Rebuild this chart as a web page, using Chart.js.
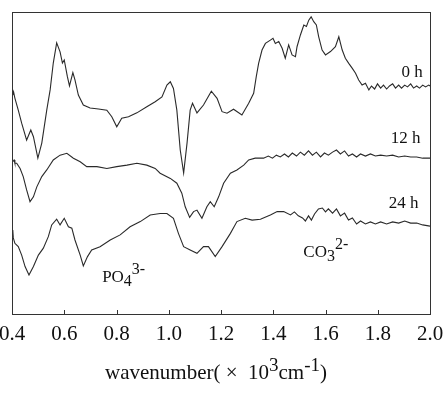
<!DOCTYPE html>
<html>
<head>
<meta charset="utf-8">
<script src="https://cdn.jsdelivr.net/npm/chart.js@4"></script>
<style>
  html, body { margin: 0; padding: 0; background: #fff; }
  #wrap { width: 446px; height: 394px; }
</style>
</head>
<body>
<div id="wrap"><canvas id="myChart01"></canvas></div>
<script>
// wavenumber (x 10^3 cm^-1), absorbance (arbitrary, offset)
var spec0h = [
  [0.403,72.5],[0.406,73.6],[0.411,71.5],[0.424,67.5],[0.437,63.2],[0.456,57.6],[0.472,60.9],[0.482,58.7],
  [0.499,51.6],[0.514,56.6],[0.533,67.5],[0.546,74.2],[0.558,83.1],[0.571,89.8],[0.584,86.8],[0.593,83.1],
  [0.600,84.1],[0.612,78.6],[0.620,75.5],[0.633,79.9],[0.641,77.5],[0.654,72.5],[0.673,69.2],[0.699,68.2],
  [0.731,67.9],[0.763,67.5],[0.782,65.3],[0.801,62.0],[0.820,64.8],[0.846,65.3],[0.878,66.6],[0.916,68.6],
  [0.948,70.3],[0.974,71.9],[0.993,75.8],[1.006,76.9],[1.018,74.7],[1.031,67.5],[1.044,54.3],[1.057,46.7],
  [1.070,56.6],[1.082,67.5],[1.091,69.8],[1.108,66.6],[1.133,69.2],[1.163,73.8],[1.185,71.4],[1.204,67.0],
  [1.223,66.5],[1.248,67.8],[1.280,65.9],[1.306,69.8],[1.325,73.1],[1.335,78.6],[1.344,83.0],[1.357,87.4],
  [1.370,89.6],[1.389,90.7],[1.399,91.3],[1.408,89.6],[1.421,90.2],[1.434,88.0],[1.446,84.7],[1.459,89.1],
  [1.472,85.8],[1.485,85.2],[1.491,88.5],[1.504,92.4],[1.517,95.7],[1.527,95.2],[1.536,97.3],[1.545,98.4],
  [1.555,96.8],[1.565,95.7],[1.574,91.8],[1.587,87.4],[1.600,85.8],[1.619,86.9],[1.638,88.5],[1.651,91.8],
  [1.664,87.4],[1.676,84.7],[1.689,83.0],[1.702,81.4],[1.715,79.7],[1.727,77.5],[1.740,75.8],[1.753,76.4],
  [1.766,74.2],[1.776,75.5],[1.788,74.5],[1.799,76.2],[1.811,74.8],[1.822,75.8],[1.834,74.5],[1.845,75.5],
  [1.857,76.2],[1.868,74.8],[1.880,75.8],[1.891,74.8],[1.903,75.8],[1.914,75.2],[1.926,76.2],[1.937,74.8],
  [1.949,75.5],[1.960,74.8],[1.972,75.8],[1.983,75.2],[1.995,75.8],[2.000,75.5]
];
var spec12h = [
  [0.403,50.4],[0.408,51.0],[0.411,49.9],[0.418,49.9],[0.431,48.2],[0.443,45.5],[0.456,41.1],[0.469,37.2],
  [0.482,38.8],[0.495,42.1],[0.514,45.5],[0.533,47.7],[0.558,51.0],[0.584,52.6],[0.610,53.2],[0.635,51.6],
  [0.661,50.4],[0.686,48.8],[0.725,48.8],[0.763,48.2],[0.801,48.8],[0.840,49.3],[0.878,49.9],[0.916,49.3],
  [0.948,48.2],[0.967,46.6],[1.006,44.9],[1.031,43.3],[1.050,40.0],[1.063,35.5],[1.080,32.0],[1.095,33.9],
  [1.108,34.4],[1.127,31.7],[1.146,35.5],[1.159,37.2],[1.174,35.5],[1.191,38.8],[1.210,43.3],[1.236,46.6],
  [1.261,47.7],[1.287,49.3],[1.306,51.0],[1.331,51.6],[1.363,51.6],[1.381,52.3],[1.397,51.6],[1.412,52.6],
  [1.427,52.0],[1.443,53.0],[1.458,52.0],[1.473,53.3],[1.489,52.3],[1.504,53.6],[1.519,52.6],[1.535,54.0],
  [1.550,52.6],[1.565,53.6],[1.581,52.0],[1.596,53.3],[1.611,52.6],[1.627,53.6],[1.642,54.3],[1.657,53.0],
  [1.673,54.0],[1.688,52.3],[1.703,53.0],[1.719,52.0],[1.734,53.0],[1.753,52.3],[1.772,53.0],[1.791,52.3],
  [1.811,52.6],[1.834,52.3],[1.857,52.6],[1.880,52.0],[1.903,52.3],[1.926,52.0],[1.949,52.0],[1.972,51.6],
  [2.000,51.6]
];
var spec24h = [
  [0.403,27.8],[0.405,25.2],[0.411,23.4],[0.424,22.3],[0.437,19.5],[0.450,15.7],[0.465,12.9],[0.482,15.7],
  [0.501,19.5],[0.520,21.8],[0.539,25.6],[0.552,29.5],[0.571,31.4],[0.584,29.5],[0.600,31.7],[0.616,28.9],
  [0.629,28.4],[0.641,24.5],[0.661,19.5],[0.673,15.9],[0.689,19.0],[0.705,21.2],[0.737,22.3],[0.776,24.5],
  [0.814,26.2],[0.852,28.9],[0.891,30.6],[0.929,32.8],[0.967,33.3],[0.993,33.3],[1.018,31.7],[1.037,26.7],
  [1.057,22.3],[1.082,21.2],[1.108,20.1],[1.133,22.3],[1.152,22.3],[1.178,19.0],[1.204,22.3],[1.236,26.7],
  [1.261,30.6],[1.293,31.7],[1.319,31.1],[1.351,31.4],[1.389,32.8],[1.415,33.9],[1.440,33.9],[1.466,32.8],
  [1.481,33.8],[1.496,32.5],[1.512,31.8],[1.523,30.8],[1.535,32.5],[1.546,31.1],[1.558,33.1],[1.573,34.8],
  [1.588,35.1],[1.600,33.8],[1.611,34.8],[1.627,33.4],[1.642,34.8],[1.657,32.5],[1.673,33.4],[1.688,31.1],
  [1.703,31.8],[1.719,29.8],[1.734,30.8],[1.753,29.8],[1.772,30.5],[1.791,29.8],[1.811,30.5],[1.834,29.8],
  [1.857,30.5],[1.880,30.1],[1.903,30.8],[1.926,30.1],[1.949,30.1],[1.972,29.5],[2.000,29.1]
];

var series_labels = ["0 h", "12 h", "24 h"];
// label anchors in data units: [x, y]
var label_pos = [[1.972, 78.5], [1.964, 56.6], [1.956, 35.1]];
var ion_pos = { po4: [0.745, 10.6], co3: [1.515, 18.9] };

var SERIF = "'Liberation Serif', 'Times New Roman', serif";

function toXY(arr) {
    return arr.map(function (p) { return { x: p[0], y: p[1] }; });
}

// draws text pieces, some raised (superscript) or lowered (subscript)
function richText(ctx, parts, x, y, size, align) {
    var total = 0;
    parts.forEach(function (p) {
        ctx.font = Math.round(size * (p[2] || 1)) + "px " + SERIF;
        total += ctx.measureText(p[0]).width;
    });
    var cx = x;
    if (align === 'center') cx = x - total / 2;
    if (align === 'right') cx = x - total;
    ctx.textAlign = 'left';
    ctx.textBaseline = 'alphabetic';
    parts.forEach(function (p) {
        ctx.font = Math.round(size * (p[2] || 1)) + "px " + SERIF;
        ctx.fillText(p[0], cx, y + (p[1] || 0));
        cx += ctx.measureText(p[0]).width;
    });
}

var decor = {
    id: 'decor',
    afterDraw: function (chart) {
        var ctx = chart.ctx;
        var a = chart.chartArea;
        var sx = chart.scales.x, sy = chart.scales.y;
        ctx.save();
        ctx.strokeStyle = '#333';
        ctx.lineWidth = 1;
        ctx.strokeRect(Math.round(a.left) + 0.5, Math.round(a.top) + 0.5,
            Math.round(a.right - a.left), Math.round(a.bottom - a.top));
        // inward ticks on the bottom axis
        sx.ticks.forEach(function (t) {
            var px = Math.round(sx.getPixelForValue(t.value)) + 0.5;
            ctx.beginPath();
            ctx.moveTo(px, a.bottom);
            ctx.lineTo(px, a.bottom - 4);
            ctx.stroke();
        });
        ctx.fillStyle = '#111';
        series_labels.forEach(function (s, i) {
            richText(ctx, [[s]], sx.getPixelForValue(label_pos[i][0]), sy.getPixelForValue(label_pos[i][1]), 17, 'right');
        });
        richText(ctx, [["PO"], ["4", 4, 0.95], ["3-", -8, 0.95]],
            sx.getPixelForValue(ion_pos.po4[0]), sy.getPixelForValue(ion_pos.po4[1]), 17, 'left');
        richText(ctx, [["CO"], ["3", 4, 0.95], ["2-", -8, 0.95]],
            sx.getPixelForValue(ion_pos.co3[0]), sy.getPixelForValue(ion_pos.co3[1]), 17, 'left');
        // axis title
        richText(ctx, [["wavenumber( \u00d7  10"], ["3", -8, 0.9], ["cm"], ["-1", -8, 0.9], [")"]],
            (a.left + a.right) / 2 - 5, 379, 21, 'center');
        ctx.restore();
    }
};

var myChart1 = new Chart(document.getElementById("myChart01"), {
    type: 'line',
    data: {
        datasets: [
            { label: series_labels[0], data: toXY(spec0h) },
            { label: series_labels[1], data: toXY(spec12h) },
            { label: series_labels[2], data: toXY(spec24h) }
        ]
    },
    options: {
        responsive: true,
        maintainAspectRatio: false,
        animation: false,
        layout: { padding: { top: 12, left: 12, right: 16, bottom: 0 } },
        elements: {
            line: { borderColor: '#2a2a2a', borderWidth: 1.1, tension: 0 },
            point: { radius: 0 }
        },
        plugins: {
            legend: { display: false },
            tooltip: { enabled: false }
        },
        scales: {
            x: {
                type: 'linear',
                min: 0.4,
                max: 2.0,
                grid: { display: false },
                border: { display: false },
                ticks: {
                    stepSize: 0.2,
                    padding: 0,
                    color: '#111',
                    maxRotation: 0,
                    font: { family: SERIF, size: 21 },
                    callback: function (v) { return v.toFixed(1); }
                },
                afterFit: function (scale) {
                    scale.height = 80;
                    scale.paddingLeft = 0;
                    scale.paddingRight = 0;
                }
            },
            y: { display: false, min: 0, max: 100 }
        }
    },
    plugins: [decor]
});
</script>
</body>
</html>
